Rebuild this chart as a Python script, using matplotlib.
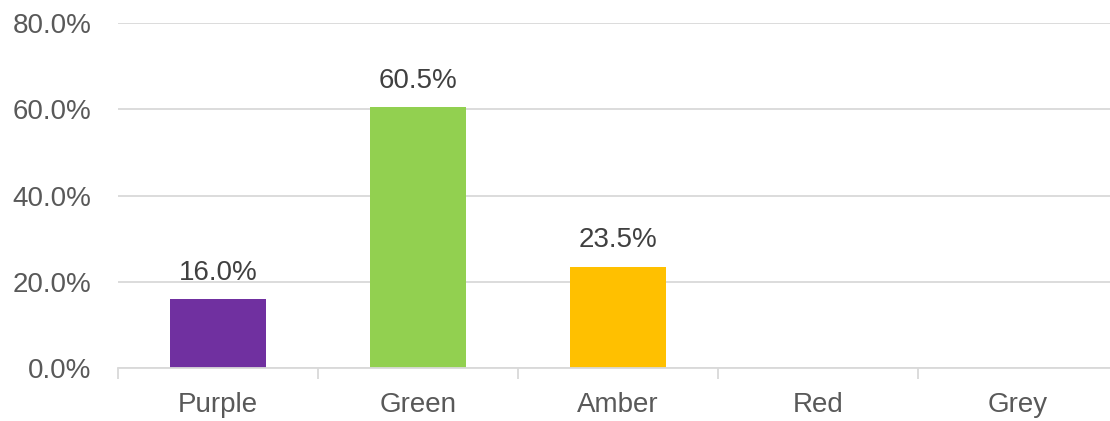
import matplotlib.pyplot as plt
from matplotlib.ticker import PercentFormatter, MultipleLocator

categories = ["Purple", "Green", "Amber", "Red", "Grey"]
values = [16.0, 60.5, 23.5, 0.0, 0.0]
colors = ["#7030A0", "#92D050", "#FFC000", "#FF0000", "#A6A6A6"]

plt.rcParams['font.family'] = ['Liberation Sans', 'DejaVu Sans']

fig = plt.figure(figsize=(11.1, 4.21), dpi=100)
ax = fig.add_axes([118 / 1110, 53 / 421, 1000 / 1110, 345 / 421])

x = list(range(len(categories)))
bars = ax.bar(x, values, width=0.48, color=colors, zorder=2)

# data labels only for non-empty bars
for xi, v in zip(x, values):
    if v > 0:
        ax.annotate(f"{v:.1f}%", (xi, v), xytext=(0, 9.5), textcoords='offset points',
                    ha='center', va='bottom', fontsize=20, color='#404040')

ax.set_xlim(-0.5, 4.5)
ax.set_ylim(0, 80)
ax.yaxis.set_major_locator(MultipleLocator(20))
ax.yaxis.set_major_formatter(PercentFormatter(decimals=1))
ax.grid(axis='y', color='#D9D9D9', linewidth=1.3, zorder=0)

ax.set_xticks([i - 0.5 for i in range(len(categories) + 1)])
ax.set_xticklabels([])
ax.set_xticks(x, minor=True)
ax.set_xticklabels(categories, minor=True)
ax.tick_params(axis='x', which='major', length=8, width=1.3, color='#D9D9D9')
ax.tick_params(axis='x', which='minor', length=0, pad=17, labelsize=20, labelcolor='#595959')
ax.tick_params(axis='y', length=0, pad=19, labelsize=20, labelcolor='#595959')

for s in ['top', 'right', 'left']:
    ax.spines[s].set_visible(False)
ax.spines['bottom'].set_color('#D9D9D9')
ax.spines['bottom'].set_linewidth(1.3)

plt.savefig('out.png', dpi=100)
